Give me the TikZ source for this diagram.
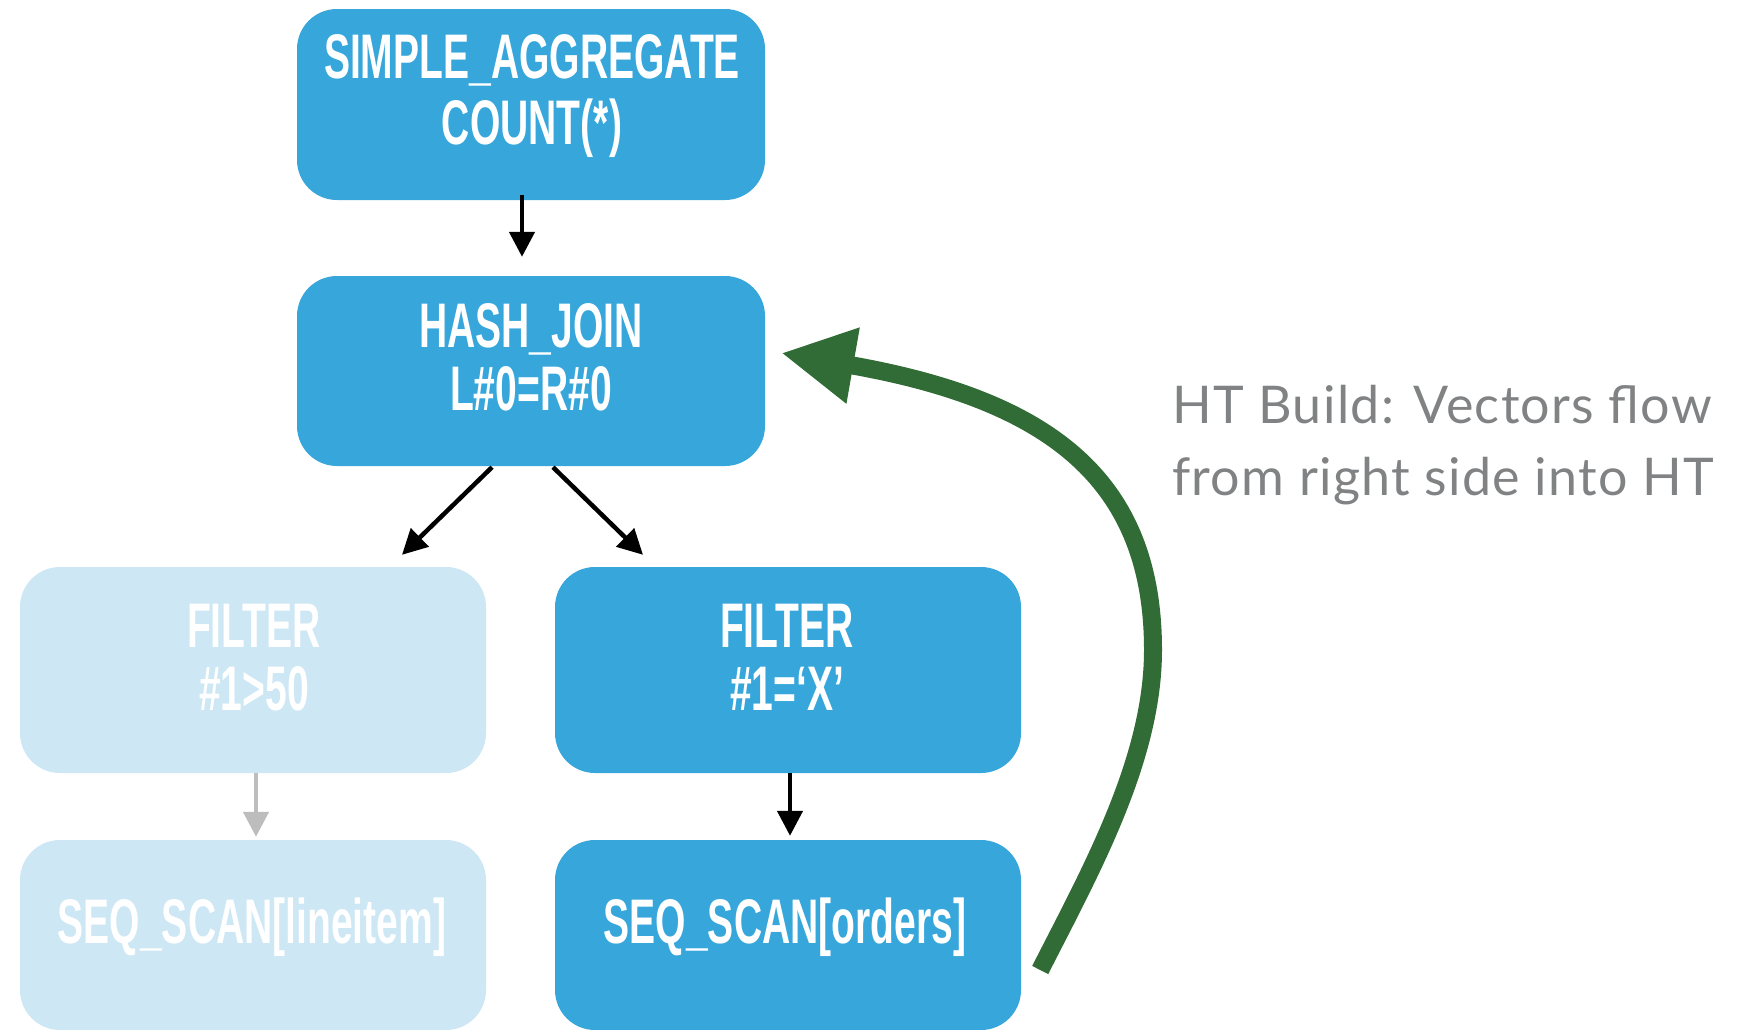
\documentclass[tikz,border=0pt]{standalone}
\usepackage{fontspec}
\newfontfamily\boxfont{Liberation Sans}[FakeStretch=0.62]
\newfontfamily\notefont{Lato}[LetterSpace=2.5]
\usetikzlibrary{arrows.meta,calc}
\definecolor{opblue}{RGB}{54,166,219}
\definecolor{oplight}{RGB}{205,231,244}
\definecolor{buildgreen}{RGB}{49,107,54}
\definecolor{notegray}{RGB}{128,130,131}
\definecolor{dimarrow}{RGB}{189,189,189}

\begin{document}
\begin{tikzpicture}[x=1pt,y=-1pt,
  opbox/.style={rectangle, rounded corners=40pt, fill=opblue, draw=none,
    minimum width=468pt, minimum height=191pt, inner sep=0pt},
  dimbox/.style={opbox, fill=oplight},
  optext/.style={text=white, align=center, inner sep=0pt,
    font=\boxfont\bfseries\fontsize{63}{63}\selectfont},
  flow/.style={line width=4.5pt, -{Triangle[length=25pt,width=25pt]}},
  dimflow/.style={flow, draw=dimarrow, -{Triangle[length=25pt,width=25pt,fill=dimarrow]}},
  build/.style={draw=buildgreen, line width=18pt,
    -{Triangle[length=73pt,width=72pt,fill=buildgreen]}},
  note/.style={text=notegray, align=left, inner sep=0pt,
    font=\notefont\fontsize{52}{72}\selectfont}]

\useasboundingbox (0,0) rectangle (1737,1029);
\clip (0,0) rectangle (1737,1029);

% operator boxes
\node[opbox] (agg) at (531,104.5) {};
\node[opbox, minimum height=190pt] (join) at (531,371) {};
\node[dimbox, minimum width=466pt, minimum height=206pt] (fl) at (253,670) {};
\node[opbox, minimum width=466pt, minimum height=206pt] (fr) at (788,670) {};
\node[dimbox, minimum width=466pt, minimum height=190pt] (sl) at (253,935) {};
\node[opbox, minimum width=466pt, minimum height=190pt] (sr) at (788,935) {};

% operator labels
\node[optext] (aggText) at (532,98.9) {\strut SIMPLE\_AGGREGATE\\\strut COUNT(*)};
\node[optext] (joinText) at (531,365.9) {\strut HASH\_JOIN\\\strut L\#0=R\#0};
\node[optext] (flText) at (254,666) {\strut FILTER\\\strut \#1>50};
\node[optext] (frText) at (787,666) {\strut FILTER\\\strut \#1=‘X’};
\node[optext] (slText) at (252,930.4) {\strut SEQ\_SCAN[lineitem]};
\node[optext] (srText) at (785,930.4) {\strut SEQ\_SCAN[orders]};

% data flow between operators
\draw[flow] ($(agg.south)+(-9,-5)$) -- ($(join.north)+(-9,-19)$);
\draw[flow] ($(join.south)+(-39,1)$) -- ($(fl.north)+(149,-12)$);
\draw[flow] ($(join.south)+(22,1)$) -- ($(fr.north)+(-145,-12)$);
\draw[dimflow] ($(fl.south)+(3,0)$) -- ($(sl.north)+(3,-3)$);
\draw[flow] ($(fr.south)+(2,0)$) -- ($(sr.north)+(2,-4)$);

% hash table build path
\coordinate (bend) at (1153,650);
\draw[build] ($(sr.east)+(19,35)$) .. controls (1090,872) and (1153,760) .. (bend)
  .. controls (1153,480) and (1050,400) .. ($(join.east)+(16,-18)$);

\node[note, anchor=north west] (note) at (1172,372.6)
  {\strut HT Build: Vectors flow\\\strut from right side into HT};
\end{tikzpicture}
\end{document}
